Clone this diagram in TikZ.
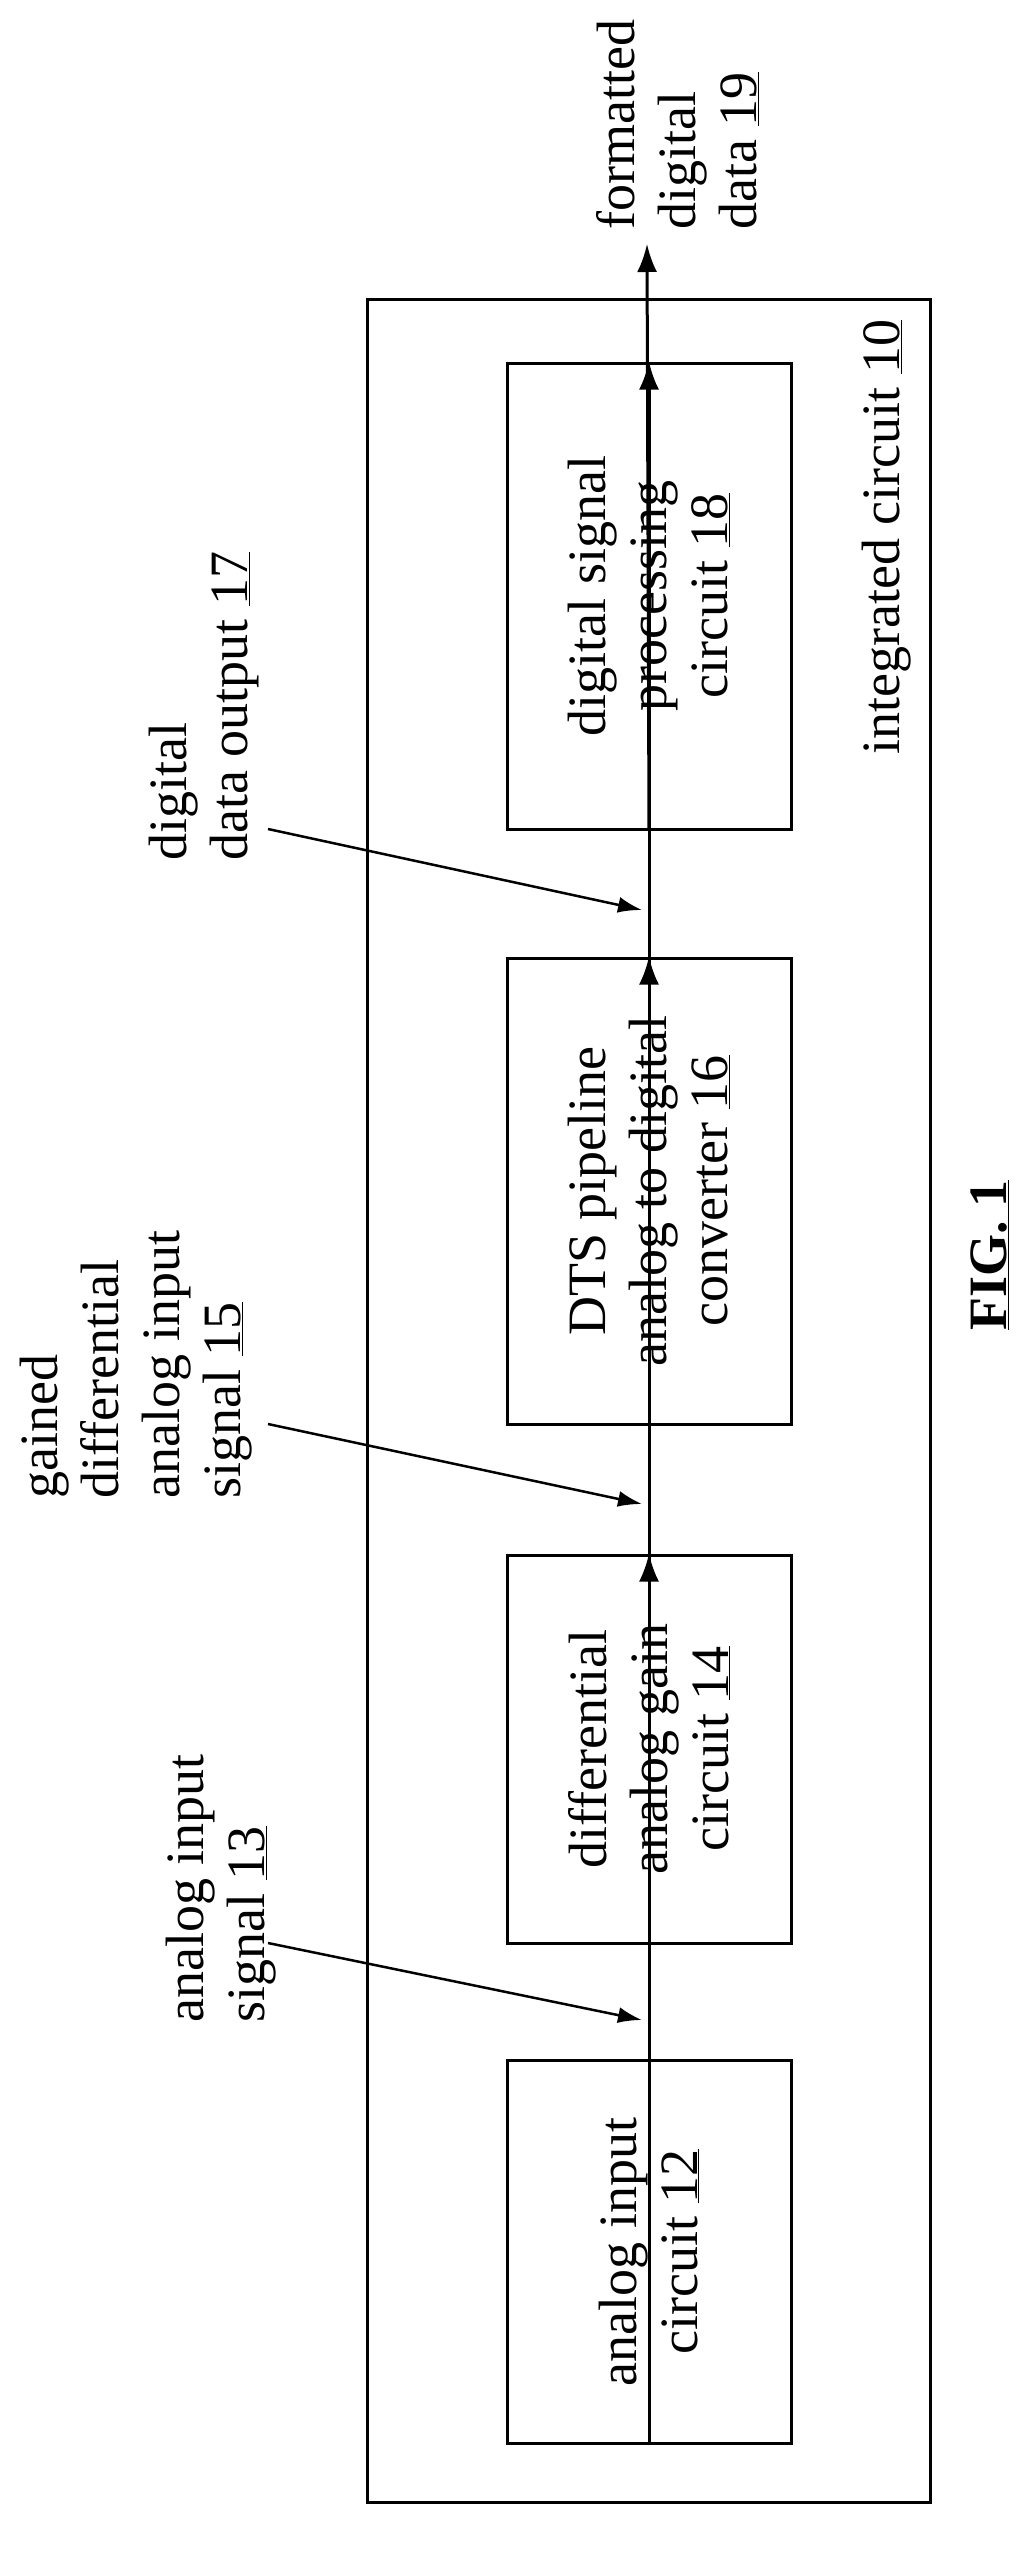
\documentclass[tikz,border=0pt]{standalone}
\usepackage{fontspec}
\setmainfont{Liberation Serif}
\usetikzlibrary{arrows.meta}
\begin{document}
\begin{tikzpicture}[x=1pt,y=-1pt,
  every node/.style={font=\fontsize{54}{61}\selectfont},
  blk/.style={draw,line width=3pt,rotate=90,align=center,inner sep=0},
  lbl/.style={rotate=90,align=left,anchor=north west,inner sep=0},
  arr/.style={line width=3pt,-{Latex[length=28pt,width=20pt]}},
  thin arr/.style={line width=2.5pt,-{Latex[length=24pt,width=16pt]}}]
\useasboundingbox (0,0) rectangle (1033,2564);
\draw[line width=3pt] (367,299) rectangle (930,2502);
\node[blk,minimum width=383pt,minimum height=284pt] (b12) at (649,2252) {analog input\\circuit \underline{12}};
\node[blk,minimum width=388pt,minimum height=284pt] (b14) at (649,1749) {differential\\analog gain\\circuit \underline{14}};
\node[blk,minimum width=466pt,minimum height=284pt] (b16) at (649,1191) {DTS pipeline\\analog to digital\\converter \underline{16}};
\node[blk,minimum width=466pt,minimum height=284pt] (b18) at (649,596) {digital signal\\processing\\circuit \underline{18}};
\coordinate (out) at (647,244);
\draw[arr] (b12.west) -- (b14.east);
\draw[arr] (b14.west) -- (b16.east);
\draw[arr] (b16.west) -- (b18.east);
\draw[arr] (b18.west) -- (out);
\node[lbl] (l19) at (596,230) {formatted\\digital\\data \underline{19}};
\node[lbl] (l17) at (149,861) {digital\\data output \underline{17}};
\node[lbl] (l15) at (20,1499) {gained\\differential\\analog input\\signal \underline{15}};
\node[lbl] (l13) at (166,2023) {analog input\\signal \underline{13}};
\node[lbl] (l10) at (862,755) {integrated circuit \underline{10}};
\coordinate (s17) at (268,829); \coordinate (e17) at (642,910);
\coordinate (s15) at (268,1424); \coordinate (e15) at (642,1504);
\coordinate (s13) at (268,1943); \coordinate (e13) at (642,2020);
\draw[thin arr] (s17) -- (e17);
\draw[thin arr] (s15) -- (e15);
\draw[thin arr] (s13) -- (e13);
\node[rotate=90,inner sep=0,font=\bfseries\fontsize{54}{61}\selectfont] (fig) at (990,1255) {\underline{FIG. 1}};
\end{tikzpicture}
\end{document}
